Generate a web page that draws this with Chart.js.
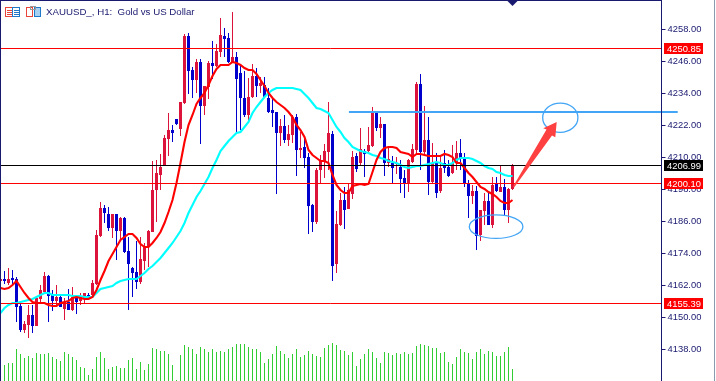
<!DOCTYPE html>
<html>
<head>
<meta charset="utf-8">
<title>XAUUSD H1</title>
<script src="https://cdn.jsdelivr.net/npm/chart.js@4/dist/chart.umd.min.js"></script>
<style>
  html, body { margin: 0; padding: 0; background: #fff; overflow: hidden; }
  canvas { display: block; }
</style>
</head>
<body>
<canvas id="myChart" width="716" height="381"></canvas>
<script>
const titleText = "XAUUSD_, H1:  Gold vs US Dollar";
const priceTicks = [4258, 4246, 4234, 4222, 4210, 4198, 4186, 4174, 4162, 4150, 4138];
const redLevels = [4250.85, 4200.10, 4155.39];
const lastPrice = 4206.99;

const opens = [
  4163.5,
  4164.25, 4162.75, 4164.63, 4164.25, 4154.13, 4145.13, 4147, 4150.75, 4146.63, 4156.75,
  4159.38, 4165.38, 4158.25, 4156, 4157.5, 4153, 4155.63, 4152.63, 4157.13, 4156,
  4157.13, 4158.25, 4158.25, 4162.38, 4180.38, 4190.88, 4188.63, 4183.38, 4188.63, 4182.25,
  4187.13, 4174.75, 4168.38, 4166.88, 4163.13, 4171, 4176.25, 4181.88, 4197.63, 4203.25,
  4206.63, 4216.75, 4220.13, 4224.25, 4220.5, 4230.25, 4255.38, 4242.63, 4238.88, 4245.63,
  4229.13, 4236.25, 4245.25, 4244.13, 4249.38, 4255.38, 4254.63, 4245.63, 4247.5, 4241.5,
  4232.13, 4225.75, 4232.5, 4240.38, 4236.63, 4237, 4232.13, 4227.63, 4226.88, 4219,
  4221.63, 4216.38, 4218.25, 4225, 4212.63, 4213.75, 4210, 4192, 4185.63, 4205.13,
  4208.5, 4211.88, 4218.63, 4169.88, 4184.5, 4193.88, 4190.5, 4196.13, 4210.38, 4207.75,
  4212.25, 4212.25, 4214.13, 4226.5, 4220.88, 4222.38, 4207.75, 4207.75, 4207.38, 4206.25,
  4202.13, 4200.25, 4208.13, 4212.63, 4237.38, 4211.88, 4216.38, 4200.63, 4207.75, 4197.25,
  4207.75, 4206.25, 4204, 4207.75, 4211.5, 4209.63, 4200.25, 4195.38, 4197.25, 4180.75,
  4189.75, 4193.5, 4184.5, 4200.25, 4196.88, 4198.75, 4190.13, 4198
];
const highs = [
  4164.63,
  4167.25, 4168.38, 4167.63, 4165, 4155.25, 4148.5, 4154.5, 4154.5, 4157.13, 4162,
  4166.88, 4165.75, 4160.13, 4162, 4158.25, 4157.13, 4160.5, 4161.25, 4157.5, 4159,
  4159, 4159, 4163.88, 4182.63, 4193.13, 4192, 4191.25, 4188.63, 4188.63, 4187.5,
  4187.5, 4180, 4168.75, 4178.5, 4180, 4177.75, 4182.63, 4208.5, 4208.88, 4211.13,
  4218.25, 4226.5, 4222, 4224.25, 4230.63, 4256.13, 4256.5, 4243.75, 4246.75, 4246.75,
  4236.63, 4246, 4253.5, 4252.38, 4262.13, 4258.38, 4256.5, 4264.38, 4249.38, 4244.5,
  4242.25, 4239.63, 4244.88, 4243.38, 4240, 4240, 4235.88, 4232.5, 4226.88, 4224.25,
  4225.75, 4222, 4225.75, 4226.13, 4219.38, 4217.88, 4211.5, 4192.38, 4205.88, 4210.75,
  4214.88, 4230.63, 4219.75, 4189.75, 4196.5, 4198.75, 4200.25, 4212.25, 4211.5, 4220.88,
  4213, 4221.25, 4228.75, 4227.25, 4225, 4222.38, 4213.75, 4210.38, 4210, 4208.88,
  4205.13, 4209.25, 4214.88, 4238.13, 4241.13, 4229.13, 4225, 4215.25, 4211.5, 4210,
  4212.63, 4208.88, 4214.5, 4216, 4216.75, 4211.5, 4201.38, 4199.5, 4199.13, 4190.13,
  4196.5, 4196.88, 4202.5, 4202.5, 4206.63, 4201.75, 4198.38, 4207.38
];
const lows = [
  4163.13,
  4162.38, 4162, 4162, 4148.13, 4144.38, 4144, 4142.13, 4144, 4146.63, 4155.25,
  4159, 4148.13, 4152.25, 4154.5, 4153.75, 4148.88, 4152.63, 4152.25, 4151.13, 4154.5,
  4154.88, 4156.75, 4157.5, 4162, 4180, 4185.25, 4182.25, 4179.63, 4171.38, 4178.88,
  4174, 4152.63, 4157.5, 4160.5, 4162.38, 4167.63, 4168.75, 4181.88, 4185.63, 4197.63,
  4206.63, 4210.38, 4215.63, 4222, 4217.88, 4229.88, 4233.63, 4232.13, 4234, 4214.88,
  4225.75, 4231.75, 4239.25, 4243.75, 4247.5, 4247.5, 4245.25, 4245.25, 4219.38, 4220.13,
  4225, 4223.13, 4232.13, 4232.5, 4234, 4232.5, 4226.5, 4221.25, 4196.13, 4214.13,
  4215.25, 4214.13, 4215.25, 4202.88, 4209.63, 4205.88, 4181.13, 4181.88, 4184.88, 4200.25,
  4202.13, 4205.13, 4163.5, 4166.5, 4184.13, 4183, 4190.5, 4194.25, 4204.38, 4207,
  4202.5, 4211.88, 4213.75, 4219.75, 4217.13, 4202.88, 4206.25, 4200.25, 4203.63, 4196.5,
  4194.63, 4196.88, 4207.75, 4211.5, 4205.13, 4210.75, 4195.75, 4200.25, 4194.63, 4196.5,
  4204, 4202.5, 4203.63, 4205.13, 4205.13, 4198.75, 4187.13, 4192.38, 4175.13, 4178.5,
  4184.5, 4184.5, 4183.38, 4196.88, 4196.88, 4188.25, 4185.25, 4197.63
];
const closes = [
  4164.25,
  4163.5, 4164.25, 4163.88, 4153.75, 4145.13, 4147.38, 4150.75, 4146.63, 4157.13, 4160.13,
  4165.38, 4157.88, 4156, 4157.5, 4153.75, 4155.63, 4152.63, 4157.5, 4155.63, 4157.5,
  4159, 4157.13, 4162.75, 4180.75, 4190.88, 4189, 4183.38, 4188.63, 4182.25, 4187.13,
  4174.38, 4169.88, 4166.5, 4163.13, 4171.75, 4176.63, 4182.25, 4197.63, 4204, 4206.25,
  4217.13, 4220.13, 4219, 4222.38, 4230.63, 4255.38, 4242.25, 4238.88, 4245.63, 4229.13,
  4236.63, 4245.25, 4244.13, 4249.75, 4255.75, 4254.25, 4245.63, 4247.5, 4239.25, 4232.13,
  4225.75, 4232.5, 4240.38, 4236.63, 4237.75, 4232.5, 4226.88, 4226.5, 4219, 4221.63,
  4216.38, 4218.63, 4225, 4212.63, 4213.38, 4209.63, 4191.63, 4185.63, 4205.13, 4208.5,
  4212.25, 4219, 4169.13, 4184.88, 4193.88, 4190.13, 4197.63, 4210, 4205.5, 4213,
  4211.13, 4214.5, 4226.5, 4220.88, 4222.38, 4207.75, 4209.25, 4205.88, 4207.75, 4201.75,
  4200.25, 4208.88, 4213, 4237.38, 4211.88, 4216.38, 4200.63, 4207.75, 4196.5, 4205.88,
  4205.88, 4202.88, 4207.75, 4211.5, 4209.25, 4200.25, 4195.38, 4197.25, 4180.38, 4190.13,
  4193.5, 4184.5, 4199.5, 4197.25, 4198.75, 4190.13, 4198, 4207
];
const volumes = [
  0,
  160, 180, 180, 320, 270, 230, 250, 230, 280, 270,
  270, 280, 240, 220, 200, 290, 270, 240, 210, 140,
  130, 60, 120, 240, 290, 230, 120, 140, 150, 130,
  130, 210, 230, 120, 190, 110, 170, 330, 320, 300,
  300, 270, 160, 10, 260, 360, 340, 320, 270, 340,
  320, 290, 320, 290, 300, 290, 320, 340, 370, 370,
  370, 340, 320, 320, 290, 180, 220, 270, 350, 300,
  270, 230, 270, 320, 240, 260, 300, 270, 250, 240,
  330, 360, 380, 360, 310, 300, 260, 290, 150, 220,
  270, 320, 290, 230, 180, 290, 280, 260, 280, 270,
  290, 270, 280, 350, 370, 360, 350, 330, 330, 280,
  290, 190, 170, 240, 320, 290, 280, 220, 290, 320,
  270, 300, 290, 250, 250, 290, 340, 120
];
const fastMA = [
  4160.88,
  4160.5, 4160.88, 4162, 4163.5, 4161.25, 4159, 4157.13, 4155.63, 4155.25, 4155.25,
  4155.25, 4154.5, 4154.13, 4154.13, 4155.25, 4155.63, 4156, 4157.13, 4157.5, 4157.13,
  4156.75, 4156.75, 4157.5, 4160.13, 4163.88, 4167.25, 4171, 4173.63, 4176.25, 4178.88,
  4180, 4181.13, 4181.13, 4179.63, 4177.38, 4176.25, 4176.25, 4177.75, 4179.63, 4181.88,
  4185.25, 4189.38, 4193.88, 4200.25, 4207.75, 4215.63, 4222, 4225.75, 4229.88, 4232.13,
  4234, 4237, 4240.38, 4243, 4244.5, 4244.5, 4244.5, 4245.63, 4245.25, 4244.5,
  4243.38, 4242.63, 4242.63, 4241.13, 4238.88, 4236.63, 4234, 4232.13, 4230.63, 4229.5,
  4228.38, 4226.88, 4225, 4222, 4220.13, 4217.5, 4212.63, 4210.75, 4209.63, 4208.5,
  4208.5, 4207.75, 4203.25, 4199.5, 4197.63, 4196.5, 4196.5, 4199.13, 4199.5, 4199.88,
  4199.5, 4199.88, 4204.38, 4208.88, 4211.88, 4213.38, 4213.75, 4213.75, 4213.38, 4211.88,
  4211.5, 4211.13, 4210, 4211.13, 4211.13, 4210.75, 4210.38, 4210.38, 4210.38, 4210.38,
  4211.13, 4210.75, 4210, 4207.75, 4207.75, 4205.88, 4204, 4202.5, 4200.63, 4198.75,
  4198, 4196.88, 4196.13, 4195, 4193.5, 4192.75, 4192.75, 4193.88
];
const slowMA = [
  4151.5,
  4153.38, 4154.5, 4155.25, 4155.25, 4155.63, 4156, 4156.38, 4156.75, 4157.5, 4158.25,
  4159, 4159, 4158.25, 4158.25, 4158.25, 4158.25, 4158.25, 4157.88, 4157.88, 4157.88,
  4157.5, 4157.5, 4157.5, 4159, 4160.5, 4160.88, 4161.25, 4161.63, 4162.75, 4163.5,
  4163.88, 4164.25, 4164.25, 4164.25, 4165.38, 4166.5, 4168, 4169.13, 4170.63, 4172.13,
  4174, 4175.88, 4177.75, 4180, 4182.25, 4185.25, 4189, 4192, 4195, 4197.25,
  4199.88, 4202.5, 4205.88, 4208.88, 4212.25, 4214.13, 4216, 4217.5, 4219, 4219.38,
  4221.25, 4223.13, 4226.5, 4228.75, 4230.63, 4232.5, 4234, 4235.13, 4235.88, 4235.88,
  4235.88, 4235.88, 4235.88, 4235.5, 4235.13, 4233.63, 4232.13, 4230.25, 4228.38, 4228,
  4227.25, 4226.5, 4223.88, 4221.25, 4219.38, 4217.13, 4215.63, 4213.75, 4213, 4212.25,
  4211.88, 4211.5, 4210.75, 4210.38, 4209.63, 4209.25, 4208.5, 4208.13, 4207.75, 4207,
  4206.25, 4205.88, 4206.25, 4206.63, 4206.63, 4207, 4207.38, 4207.75, 4208.13, 4207.75,
  4207, 4207, 4207.75, 4208.88, 4209.63, 4209.63, 4209.63, 4209.25, 4208.5, 4207.75,
  4206.63, 4205.88, 4205.5, 4204.38, 4204, 4203.25, 4202.88, 4202.88
];

// drawn objects on the chart, in bar index / price
const trendIndex = [87.1, 169.3];
const trendPrice = 4226.88;
const upperEllipse = { index: 139.95, price: 4224.74, rIndex: 4.4, rPrice: 5.5 };
const lowerEllipse = { index: 123.9, price: 4183.86, rIndex: 6.7, rPrice: 4.4 };
const arrowIndex = [128.1, 136.5, 135.7, 139.05, 138.7, 137.875, 128.4];
const arrowPrice = [4198.86, 4220.31, 4220.76, 4223.13, 4217.39, 4218.06, 4198.6];

const slots = Array.from({ length: 166 }, (_, i) => String(i));
const navy = "#191970";
const axisFont = "9.4px 'Liberation Sans'";

const isUp = (i) => closes[i] >= opens[i];
const candleColors = opens.map((_, i) => (isUp(i) ? "#DC143C" : "#0000CD"));

const overlay = {
  id: "overlay",
  afterDatasetsDraw(chart) {
    const { ctx, scales } = chart;
    const x = scales.x;
    const y = scales.y;
    const top = chart.chartArea.top;
    const axisX = 661.5;

    ctx.save();

    // horizontal price levels
    const hline = (price, color) => {
      const py = Math.round(y.getPixelForValue(price)) + 0.5;
      ctx.strokeStyle = color;
      ctx.lineWidth = 1;
      ctx.beginPath();
      ctx.moveTo(0, py);
      ctx.lineTo(axisX, py);
      ctx.stroke();
    };
    redLevels.forEach((p) => hline(p, "#FF0000"));
    hline(lastPrice, "#000000");

    // trend line
    const ty = Math.round(y.getPixelForValue(trendPrice));
    ctx.fillStyle = "#42A5F5";
    ctx.fillRect(x.getPixelForValue(trendIndex[0]), ty - 1, x.getPixelForValue(trendIndex[1]) - x.getPixelForValue(trendIndex[0]), 2);

    // ellipses
    [upperEllipse, lowerEllipse].forEach((e) => {
      const cx = x.getPixelForValue(e.index);
      const cy = y.getPixelForValue(e.price);
      const rx = x.getPixelForValue(e.index + e.rIndex) - cx;
      const ry = cy - y.getPixelForValue(e.price + e.rPrice);
      ctx.strokeStyle = "#42A5F5";
      ctx.lineWidth = 1.3;
      ctx.beginPath();
      ctx.ellipse(cx, cy, rx, ry, 0, 0, Math.PI * 2);
      ctx.stroke();
    });

    // arrow
    ctx.fillStyle = "#FF4040";
    ctx.beginPath();
    arrowIndex.forEach((idx, i) => {
      const px = x.getPixelForValue(idx);
      const py = y.getPixelForValue(arrowPrice[i]);
      if (i === 0) ctx.moveTo(px, py);
      else ctx.lineTo(px, py);
    });
    ctx.closePath();
    ctx.fill();

    // frame
    ctx.fillStyle = navy;
    ctx.fillRect(0, 0, 1, 381);
    ctx.fillRect(0, 0, 662, 1);
    ctx.fillRect(661, 0, 1, 381);
    ctx.fillStyle = "#8A9BB0";
    ctx.fillRect(714, 0, 1, 381);

    // shift marker
    const mx = x.getPixelForValue(opens.length - 1);
    ctx.fillStyle = navy;
    ctx.beginPath();
    ctx.moveTo(mx - 5, top + 1);
    ctx.lineTo(mx + 5, top + 1);
    ctx.lineTo(mx, top + 6);
    ctx.closePath();
    ctx.fill();

    // price tags
    const tag = (price, color) => {
      const py = Math.round(y.getPixelForValue(price));
      ctx.fillStyle = color;
      ctx.fillRect(664, py - 5, 39, 11);
      ctx.fillStyle = "#FFFFFF";
      ctx.font = axisFont;
      ctx.textAlign = "left";
      ctx.textBaseline = "middle";
      ctx.fillText(price.toFixed(2), 667, py + 1);
    };
    redLevels.forEach((p) => tag(p, "#FF0000"));
    tag(lastPrice, "#000000");

    // title icons
    ctx.lineWidth = 1;
    ctx.strokeStyle = "#E8443A";
    ctx.strokeRect(5.5, 7.5, 7, 9);
    ctx.strokeStyle = "#1F78C8";
    ctx.strokeRect(12.5, 7.5, 7, 9);
    ctx.fillStyle = "#E8443A";
    ctx.fillRect(7, 10, 5, 1);
    ctx.fillRect(7, 12, 5, 1);
    ctx.fillRect(7, 14, 5, 1);
    ctx.fillStyle = "#1F78C8";
    ctx.fillRect(14, 10, 5, 1);
    ctx.fillRect(14, 12, 5, 1);
    ctx.fillRect(14, 14, 5, 1);
    ctx.strokeStyle = "#E8443A";
    ctx.strokeRect(26.5, 7.5, 6, 9);
    ctx.strokeStyle = "#1F78C8";
    ctx.fillStyle = "#A8D0F0";
    ctx.fillRect(34, 8, 6, 8);
    ctx.strokeRect(34.5, 7.5, 6, 9);
    ctx.strokeStyle = "#9A9A9A";
    ctx.strokeRect(30.5, 6.5, 5, 3);

    // title
    ctx.fillStyle = navy;
    ctx.font = "9.7px 'Liberation Sans'";
    ctx.textAlign = "left";
    ctx.textBaseline = "alphabetic";
    ctx.fillText(titleText, 46, 15);

    ctx.restore();
  },
};

new Chart(document.getElementById("myChart").getContext("2d"), {
  data: {
    labels: slots,
    datasets: [
      {
        type: "line",
        label: "Fast MA",
        data: fastMA,
        borderColor: "#FF0000",
        borderWidth: 2.1,
        pointRadius: 0,
        tension: 0,
        order: 1,
      },
      {
        type: "line",
        label: "Slow MA",
        data: slowMA,
        borderColor: "#00FFFF",
        borderWidth: 2.1,
        pointRadius: 0,
        tension: 0,
        order: 2,
      },
      {
        type: "bar",
        label: "Bodies",
        data: opens.map((o, i) => [o, closes[i]]),
        backgroundColor: candleColors,
        barThickness: 3,
        grouped: false,
        inflateAmount: 0,
        order: 3,
      },
      {
        type: "bar",
        label: "Wicks",
        data: lows.map((l, i) => [l, highs[i]]),
        backgroundColor: candleColors,
        barThickness: 1,
        grouped: false,
        inflateAmount: 0,
        order: 4,
      },
      {
        type: "bar",
        label: "Volume",
        data: volumes,
        yAxisID: "yVol",
        backgroundColor: "#32CD32",
        barThickness: 1,
        grouped: false,
        inflateAmount: 0,
        order: 5,
      },
    ],
  },
  options: {
    responsive: false,
    animation: false,
    events: [],
    layout: { padding: { left: 0.5, right: 0, top: 0, bottom: 0 } },
    plugins: { legend: { display: false }, tooltip: { enabled: false }, title: { display: false } },
    scales: {
      x: { display: false, type: "category", offset: false },
      y: {
        position: "right",
        min: 4126,
        max: 4268.875,
        afterFit: (scale) => {
          scale.width = 55.5;
          scale.paddingTop = 0;
          scale.paddingBottom = 0;
        },
        afterBuildTicks: (scale) => { scale.ticks = priceTicks.map((v) => ({ value: v })); },
        border: { display: false },
        grid: { drawOnChartArea: false, tickLength: 5, color: navy, tickWidth: 1 },
        ticks: {
          autoSkip: false,
          maxRotation: 0,
          padding: 2,
          color: navy,
          font: { family: "'Liberation Sans'", size: 9.4 },
          callback: (v) => v.toFixed(2),
        },
      },
      yVol: { display: false, min: 0, max: 3810 },
    },
  },
  plugins: [overlay],
});
</script>
</body>
</html>
